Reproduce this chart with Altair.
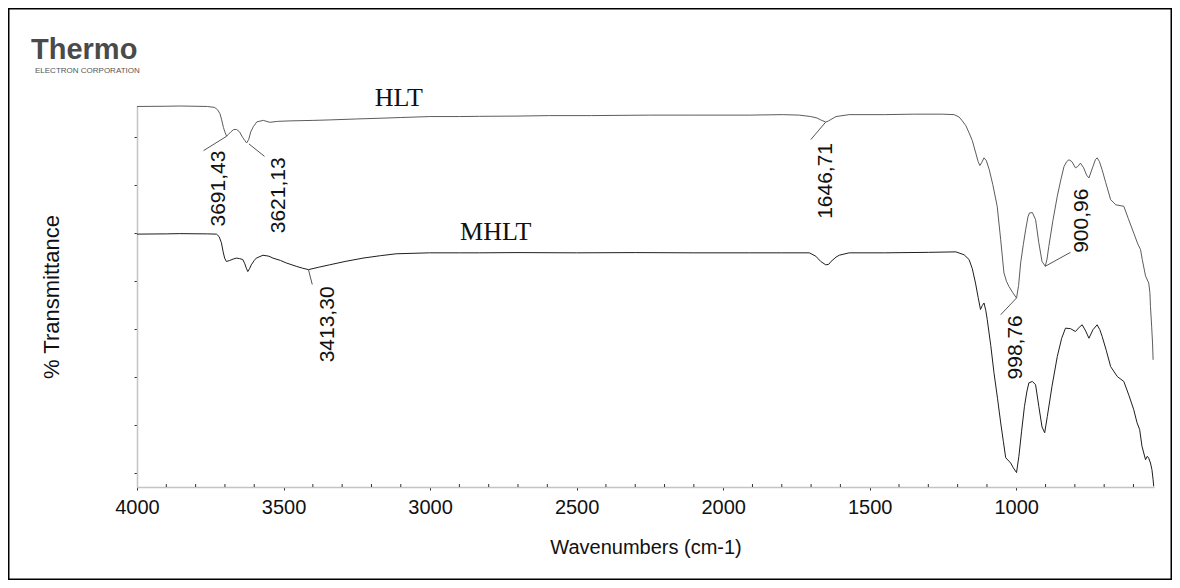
import altair as alt
import pandas as pd

# ---- data ----
hlt_wn = [4000, 3900, 3853, 3760, 3735, 3725, 3717, 3711, 3705, 3699, 3694, 3688, 3680, 3670, 3660, 3650,
          3640, 3632, 3626, 3619, 3612, 3603, 3591, 3569, 3547, 3520, 3478, 3400, 3342, 3250, 3171, 3100,
          3001, 2900, 2831, 2700, 2592, 2450, 2251, 2100, 1911, 1798, 1740, 1701, 1680, 1667, 1650, 1640,
          1632, 1615, 1570, 1450, 1350, 1252, 1212, 1195, 1184, 1172, 1161, 1150, 1139, 1130, 1124, 1118,
          1110, 1102, 1092, 1080, 1065, 1053, 1042, 1033, 1025, 1012, 999, 992, 985, 976, 968, 960, 955,
          945, 934, 923, 912, 901, 895, 889, 875, 860, 848, 837, 828, 820, 810, 798, 790, 781, 770, 760,
          752, 740, 730, 724, 716, 707, 695, 678, 660, 633, 618, 599, 585, 576, 570, 559, 548, 544, 542,
          538, 535, 533]
hlt_t = [76.3, 76.35, 76.4, 76.3, 76.1, 75.6, 74.8, 73.5, 71.9, 70.8, 70.1, 70.5, 71.0, 71.5, 71.5, 71.0,
         69.9, 69.2, 68.7, 69.4, 71.0, 72.1, 73.1, 73.4, 73.0, 73.2, 73.3, 73.4, 73.5, 73.7, 73.85, 74.0,
         74.2, 74.2, 74.25, 74.3, 74.4, 74.4, 74.5, 74.5, 74.5, 74.6, 74.5, 74.2, 73.9, 73.5, 73.05, 73.3,
         73.6, 74.2, 74.6, 74.6, 74.7, 74.7, 74.6, 74.1, 73.3, 72.3, 70.8, 69.2, 66.8, 64.8, 64.0, 64.6,
         65.6, 65.0, 63.1, 60.0, 55.5, 48.5, 41.6, 39.8, 38.8, 37.5, 36.4, 39.0, 43.7, 47.5, 50.6, 53.3, 54.1,
         54.2, 52.7, 47.9, 44.0, 43.0, 44.5, 47.1, 52.5, 57.6, 61.0, 63.8, 64.8, 65.2, 64.8, 63.5, 63.8, 64.5,
         63.5, 62.0, 61.4, 63.5, 65.2, 65.6, 64.8, 63.1, 60.5, 56.9, 55.8, 55.5, 53.0, 49.9, 47.6, 46.5, 44.4,
         41.0, 39.5, 37.5, 34.6, 30.5, 27.0, 23.5]

mhlt_wn = [4000, 3900, 3854, 3760, 3729, 3720, 3712, 3706, 3701, 3695, 3684, 3672, 3661, 3650, 3639, 3632,
           3627, 3622, 3616, 3610, 3600, 3593, 3570, 3550, 3536, 3510, 3491, 3457, 3435, 3415, 3380, 3343,
           3290, 3229, 3170, 3116, 3002, 2900, 2832, 2700, 2500, 2300, 2100, 1911, 1800, 1706, 1684, 1667,
           1650, 1640, 1632, 1615, 1604, 1570, 1450, 1300, 1206, 1178, 1161, 1150, 1139, 1130, 1122, 1116,
           1110, 1104, 1099, 1087, 1076, 1064, 1053, 1044, 1036, 1019, 1010, 999, 991, 982, 972, 964, 957,
           945, 934, 923, 912, 903, 894, 878, 860, 845, 832, 815, 798, 785, 775, 763, 752, 738, 724, 715,
           707, 693, 678, 655, 633, 615, 599, 588, 579, 571, 559, 553, 548, 542, 537, 533, 531]
mhlt_t = [49.7, 49.75, 49.8, 49.75, 49.7, 49.2, 47.9, 46.0, 44.7, 44.0, 44.2, 44.5, 44.7, 44.6, 44.4, 43.5,
          42.6, 41.9, 42.5, 43.3, 44.2, 44.7, 45.3, 45.1, 44.7, 44.2, 43.7, 43.0, 42.6, 42.3, 42.8, 43.3,
          44.0, 44.7, 45.2, 45.6, 45.8, 45.8, 45.8, 45.85, 45.8, 45.85, 45.8, 45.8, 45.8, 45.8, 45.1, 44.0,
          43.3, 43.4, 44.0, 44.9, 45.3, 45.8, 45.8, 45.9, 46.0, 45.4, 44.4, 42.5, 39.5, 36.5, 34.0, 34.8,
          35.35, 33.8, 31.9, 26.5, 20.8, 15.5, 10.35, 6.5, 3.1, 2.0, 1.0, 0.0, 3.4, 8.5, 13.8, 16.8, 18.7,
          19.0, 18.3, 13.8, 9.5, 8.3, 11.7, 18.0, 24.2, 28.0, 30.1, 30.0, 29.4, 30.3, 30.8, 29.5, 28.0, 29.8,
          30.8, 29.8, 28.4, 25.5, 22.1, 20.0, 19.0, 16.0, 13.1, 10.4, 9.0, 5.5, 2.7, 3.4, 3.0, 2.0, 0.6,
          -1.5, -2.85]

series_names = ["HLT", "MHLT"]
series_label_wn = [3107, 2776]
series_label_t = [76.46, 48.5]

peak_labels = ["3691,43", "3621,13", "1646,71", "3413,30", "998,76", "900,96"]
peak_wn = [3694, 3618, 1650, 3415, 999, 901]
peak_t = [70.1, 68.5, 73.05, 42.3, 36.4, 43.0]
leader_wn = [3773, 3565, 1701, 3402, 1053, 815]
leader_t = [67.1, 65.9, 69.4, 39.2, 32.9, 45.9]
label_wn = [3720, 3515, 1650, 3349, 1000, 776]
label_t = [67.1, 65.7, 68.7, 38.8, 32.8, 45.8]
label_anchor = ["end", "end", "end", "end", "end", "start"]

logo_text = ["Thermo", "ELECTRON CORPORATION"]

major_ticks = [4000, 3500, 3000, 2500, 2000, 1500, 1000]
minor_ticks = [v for v in range(600, 4001, 100) if v % 500 != 0]
y_ticks = list(range(0, 76, 5))

# ---- tables ----
spec = pd.concat([
    pd.DataFrame({"wn": hlt_wn, "t": hlt_t, "series": "HLT"}),
    pd.DataFrame({"wn": mhlt_wn, "t": mhlt_t, "series": "MHLT"}),
])
series_df = pd.DataFrame({"name": series_names, "wn": series_label_wn, "t": series_label_t})
peaks = pd.DataFrame({"label": peak_labels, "pwn": peak_wn, "pt": peak_t,
                      "lwn": leader_wn, "lt": leader_t,
                      "twn": label_wn, "tt": label_t, "anchor": label_anchor})
logo_df = pd.DataFrame({"text": logo_text})
minor_df = pd.DataFrame({"wn": minor_ticks})

FONT = "Liberation Sans, Arial, sans-serif"
W, H = 1017, 381
PAD = {"left": 129, "top": 98, "right": 18, "bottom": 93}

xscale = alt.Scale(domain=[530, 4000], reverse=True, nice=False, zero=False)
yscale = alt.Scale(domain=[-3.0, 76.4], nice=False, zero=False)

xaxis = alt.Axis(values=major_ticks, format="d", labelOverlap=False, labelFlush=False, grid=False,
                 domainColor="#c4c4c4", domainWidth=1.5, tickColor="#333333", tickSize=3,
                 labelFont=FONT, labelFontSize=20, labelColor="#111111", labelPadding=7,
                 title="Wavenumbers (cm-1)", titleFont=FONT, titleFontSize=20,
                 titleFontWeight="normal", titleColor="#111111", titlePadding=20)
yaxis = alt.Axis(values=y_ticks, labels=False, grid=False,
                 domainColor="#c4c4c4", domainWidth=1.5, tickColor="#333333", tickSize=3,
                 title="% Transmittance", titleFont=FONT, titleFontSize=22,
                 titleFontWeight="normal", titleColor="#111111", titlePadding=70)

base = alt.Chart(spec)
lines = base.mark_line(strokeWidth=1, interpolate="linear").encode(
    x=alt.X("wn:Q", scale=xscale, axis=xaxis),
    y=alt.Y("t:Q", scale=yscale, axis=yaxis),
    color=alt.Color("series:N", scale=alt.Scale(domain=series_names, range=["#5c5c5c", "#1e1e1e"]),
                    legend=None),
    detail="series:N",
)

minor = alt.Chart(minor_df).mark_rule(color="#333333", strokeWidth=1).encode(
    x=alt.X("wn:Q", scale=xscale), y=alt.value(H - 3), y2=alt.value(H))

names = alt.Chart(series_df).mark_text(font="Liberation Serif", fontSize=26, align="center",
                                       baseline="alphabetic", color="#111111").encode(
    x=alt.X("wn:Q", scale=xscale), y=alt.Y("t:Q", scale=yscale), text="name:N")

leaders = alt.Chart(peaks).mark_rule(color="#555555", strokeWidth=1).encode(
    x=alt.X("pwn:Q", scale=xscale), x2="lwn:Q",
    y=alt.Y("pt:Q", scale=yscale), y2="lt:Q")

end_labels = alt.Chart(peaks).transform_filter("datum.anchor == 'end'").mark_text(
    font=FONT, fontSize=21, angle=270, align="right", baseline="middle", color="#111111").encode(
    x=alt.X("twn:Q", scale=xscale), y=alt.Y("tt:Q", scale=yscale), text="label:N")

start_labels = alt.Chart(peaks).transform_filter("datum.anchor == 'start'").mark_text(
    font=FONT, fontSize=21, angle=270, align="left", baseline="middle", color="#111111").encode(
    x=alt.X("twn:Q", scale=xscale), y=alt.Y("tt:Q", scale=yscale), text="label:N")

logo_big = alt.Chart(logo_df).transform_filter("datum.text == 'Thermo'").mark_text(
    font=FONT, fontSize=29, fontWeight="bold", color="#4a4a4a", align="left",
    baseline="alphabetic").encode(x=alt.value(-106), y=alt.value(-46.7), text="text:N")

logo_small = alt.Chart(logo_df).transform_filter("datum.text != 'Thermo'").mark_text(
    font=FONT, fontSize=8, color="#555555", align="left",
    baseline="alphabetic").encode(x=alt.value(-102), y=alt.value(-33.3), text="text:N")

frame = alt.Chart(series_df).transform_filter("datum.name == 'HLT'").mark_rect(
    fill=None, stroke="#000000", strokeWidth=1.5).encode(
    x=alt.value(-PAD["left"] + 0.75), x2=alt.value(W + PAD["right"] - 0.75),
    y=alt.value(-PAD["top"] + 0.75), y2=alt.value(H + PAD["bottom"] - 0.75))

chart = alt.layer(lines, minor, leaders, names, end_labels, start_labels,
                  logo_big, logo_small, frame).properties(
    width=W, height=H,
    padding=PAD,
    autosize=alt.AutoSizeParams(type="none"),
    background="white",
).configure_view(stroke=None)

chart.save("out.html", embed_options={"renderer": "svg", "actions": False})
